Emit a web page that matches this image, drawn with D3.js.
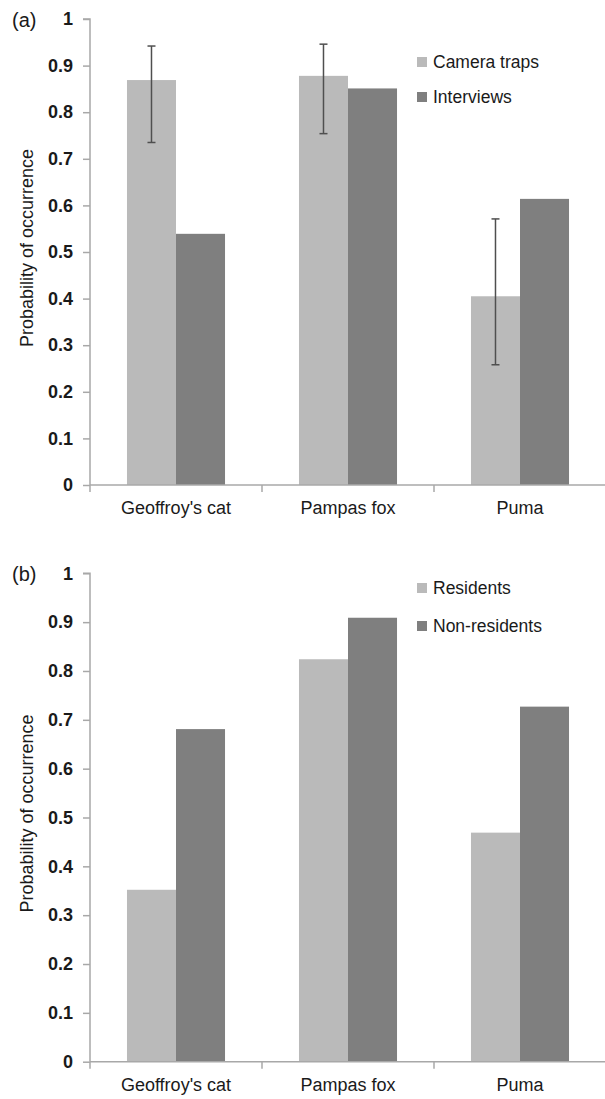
<!DOCTYPE html>
<html>
<head>
<meta charset="UTF-8">
<title>Probability of occurrence</title>
<script src="https://d3js.org/d3.v7.min.js"></script>
<style>
  body { margin: 0; background: white; }
  svg { display: block; font-family: "Liberation Sans", Arial, sans-serif; }
</style>
</head>
<body>
<svg id="chart"></svg>
<script>
const species = ["Geoffroy's cat", "Pampas fox", "Puma"];
const yTicks = [0, 0.1, 0.2, 0.3, 0.4, 0.5, 0.6, 0.7, 0.8, 0.9, 1];

// panel (a)
const seriesA = ["Camera traps", "Interviews"];
const cameraTraps = [0.869, 0.878, 0.405];
const interviews = [0.539, 0.851, 0.614];
const cameraLow = [0.735, 0.754, 0.258];
const cameraHigh = [0.942, 0.946, 0.571];

// panel (b)
const seriesB = ["Residents", "Non-residents"];
const residents = [0.352, 0.824, 0.469];
const nonResidents = [0.681, 0.909, 0.727];

const W = 605, H = 1099;
const colors = ["#bababa", "#7f7f7f"];

const svg = d3.select("#chart").attr("width", W).attr("height", H);

const x = d3.scaleBand()
  .domain(species)
  .range([90, 606])
  .paddingInner(0.43)
  .paddingOuter(0.215);

function panel(opts) {
  const y = d3.scaleLinear().domain([0, 1]).range([opts.bottom, opts.top]);
  const xi = d3.scaleBand().domain(opts.series).range([0, x.bandwidth()]);
  const g = svg.append("g");

  // bars
  opts.series.forEach((s, si) => {
    const vals = opts.values[si];
    g.selectAll(null)
      .data(species)
      .enter()
      .append("rect")
      .attr("x", (d) => x(d) + xi(s))
      .attr("y", (d, i) => y(vals[i]))
      .attr("width", xi.bandwidth())
      .attr("height", (d, i) => y(0) - y(vals[i]))
      .attr("fill", colors[si]);
  });

  // error bars on first series
  if (opts.low) {
    const cx = (d) => x(d) + xi(opts.series[0]) + xi.bandwidth() / 2;
    const eb = g.selectAll(null).data(species).enter().append("g")
      .attr("stroke", "#4f4f4f").attr("stroke-width", 1.5);
    eb.append("line")
      .attr("x1", cx).attr("x2", cx)
      .attr("y1", (d, i) => y(opts.low[i]))
      .attr("y2", (d, i) => y(opts.high[i]));
    eb.append("line")
      .attr("x1", (d) => cx(d) - 4).attr("x2", (d) => cx(d) + 4)
      .attr("y1", (d, i) => y(opts.low[i])).attr("y2", (d, i) => y(opts.low[i]));
    eb.append("line")
      .attr("x1", (d) => cx(d) - 4).attr("x2", (d) => cx(d) + 4)
      .attr("y1", (d, i) => y(opts.high[i])).attr("y2", (d, i) => y(opts.high[i]));
  }

  // y axis
  const ya = g.append("g")
    .attr("transform", "translate(90,0)")
    .call(d3.axisLeft(y).tickValues(yTicks).tickFormat(d3.format("~g")).tickSize(7).tickPadding(10));
  ya.selectAll("path, line").attr("stroke", "#a8a8a8").attr("stroke-width", 1.5);
  ya.select(".domain").attr("d", `M-7,${opts.top}H0V${opts.bottom}`);
  ya.selectAll("text")
    .attr("font-size", 18).attr("font-weight", "bold").attr("fill", "#1a1a1a")
    .attr("font-family", "Liberation Sans, Arial, sans-serif");

  // x axis: ticks at category boundaries
  const bounds = [90].concat(species.map((d) => x(d) + x.step() * (1 - 0.215)));
  const xa = g.append("g");
  xa.append("line")
    .attr("x1", 90).attr("x2", 606)
    .attr("y1", opts.bottom).attr("y2", opts.bottom)
    .attr("stroke", "#a8a8a8").attr("stroke-width", 1.5);
  xa.selectAll(null).data(bounds).enter().append("line")
    .attr("x1", (d) => d).attr("x2", (d) => d)
    .attr("y1", opts.bottom).attr("y2", opts.bottom + 7)
    .attr("stroke", "#a8a8a8").attr("stroke-width", 1.5);
  xa.selectAll(null).data(species).enter().append("text")
    .attr("x", (d) => x(d) + x.bandwidth() / 2)
    .attr("y", opts.bottom + 29)
    .attr("text-anchor", "middle")
    .attr("font-size", 18).attr("fill", "#1a1a1a")
    .text((d) => d);

  // y title
  g.append("text")
    .attr("text-anchor", "middle")
    .attr("transform", `translate(33, ${(opts.top + opts.bottom) / 2 - 4}) rotate(-90)`)
    .attr("font-size", 18).attr("fill", "#1a1a1a")
    .text("Probability of occurrence");

  // panel letter
  g.append("text")
    .attr("x", 12).attr("y", opts.top + 8)
    .attr("font-size", 20).attr("fill", "#1a1a1a")
    .text(opts.letter);

  // legend
  const lg = g.selectAll(null).data(opts.series).enter().append("g")
    .attr("transform", (d, i) => `translate(417, ${opts.legendY[i]})`);
  lg.append("rect")
    .attr("x", 0).attr("y", -5).attr("width", 10).attr("height", 10)
    .attr("fill", (d, i) => colors[i]);
  lg.append("text")
    .attr("x", 16).attr("y", 6)
    .attr("font-size", 17.5).attr("fill", "#1a1a1a")
    .text((d) => d);
}

panel({
  top: 19, bottom: 485, letter: "(a)",
  series: seriesA, values: [cameraTraps, interviews],
  low: cameraLow, high: cameraHigh,
  legendY: [62, 97]
});

panel({
  top: 573.3, bottom: 1061.7, letter: "(b)",
  series: seriesB, values: [residents, nonResidents],
  legendY: [588, 626]
});
</script>
</body>
</html>
